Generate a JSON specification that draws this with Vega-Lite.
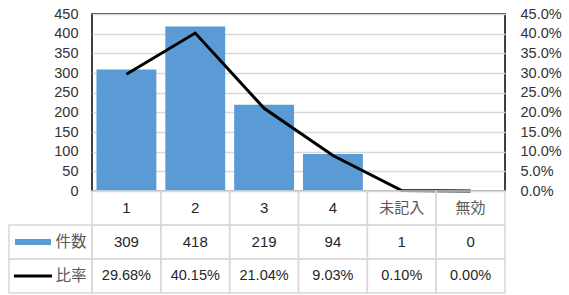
{
  "$schema": "https://vega.github.io/schema/vega-lite/v6.json",
  "padding": {"left": 8, "top": 5, "right": 5, "bottom": 0},
  "background": "white",
  "datasets": {
    "main": [
      {"cat": "1", "count": 309, "ratio": 0.2968},
      {"cat": "2", "count": 418, "ratio": 0.4015},
      {"cat": "3", "count": 219, "ratio": 0.2104},
      {"cat": "4", "count": 94, "ratio": 0.0903},
      {"cat": "未記入", "count": 1, "ratio": 0.0010},
      {"cat": "無効", "count": 0, "ratio": 0.0}
    ],
    "legend": [
      {"row": "count", "label": "件数"},
      {"row": "ratio", "label": "比率"}
    ]
  },
  "columns": 2,
  "spacing": 0,
  "bounds": "flush",
  "align": "each",
  "config": {
    "axis": {"labelFont": "Liberation Sans", "labelFontSize": 14.5, "labelColor": "#333333"}
  },
  "concat": [
    {
      "width": 83,
      "height": 177,
      "data": {"values": [{}]},
      "view": {"stroke": null},
      "mark": {"type": "text", "text": ""},
      "encoding": {}
    },
    {
      "width": 413,
      "height": 177,
      "data": {"name": "main"},
      "view": {"stroke": "black", "strokeWidth": 1.5},
      "encoding": {
        "x": {"field": "cat", "type": "nominal", "sort": null, "scale": {"paddingInner": 0.13, "paddingOuter": 0.065}, "axis": null}
      },
      "layer": [
        {
          "mark": {"type": "bar", "color": "#5b9bd5"},
          "encoding": {
            "y": {
              "field": "count", "type": "quantitative",
              "scale": {"domain": [0, 450]},
              "axis": {"values": [0, 50, 100, 150, 200, 250, 300, 350, 400, 450], "grid": true, "gridColor": "#d9d9d9", "gridWidth": 1.5, "ticks": false, "domain": false, "labelPadding": 14, "title": null}
            }
          }
        },
        {
          "mark": {"type": "line", "color": "black", "strokeWidth": 3},
          "encoding": {
            "y": {
              "field": "ratio", "type": "quantitative",
              "scale": {"domain": [0, 0.45]},
              "axis": {"orient": "right", "values": [0, 0.05, 0.1, 0.15, 0.2, 0.25, 0.3, 0.35, 0.4, 0.45], "format": ".1%", "grid": false, "ticks": false, "domain": false, "labelPadding": 15, "title": null}
            }
          }
        }
      ],
      "resolve": {"scale": {"y": "independent"}}
    },
    {
      "width": 83,
      "height": 102,
      "data": {"name": "legend"},
      "view": {"stroke": null},
      "layer": [
        {
          "mark": {"type": "rect", "fill": "transparent", "stroke": "#d9d9d9", "strokeWidth": 1.5},
          "encoding": {
            "y": {"field": "row", "type": "nominal", "scale": {"domain": ["cat", "count", "ratio"], "paddingInner": 0, "paddingOuter": 0}, "axis": null}
          }
        },
        {
          "transform": [{"filter": "datum.row === 'count'"}],
          "mark": {"type": "rect", "color": "#5b9bd5", "width": 36, "height": 6},
          "encoding": {
            "x": {"datum": "sw", "type": "nominal", "scale": {"domain": ["sw", "lb"], "paddingInner": 0, "paddingOuter": 0.092, "align": 0.71}, "axis": null},
            "y": {"field": "row", "type": "nominal"}
          }
        },
        {
          "transform": [{"filter": "datum.row === 'ratio'"}],
          "mark": {"type": "rect", "color": "black", "width": 38, "height": 3},
          "encoding": {
            "x": {"datum": "sw", "type": "nominal"},
            "y": {"field": "row", "type": "nominal"}
          }
        },
        {
          "mark": {"type": "text", "font": "Noto Sans CJK JP", "fontSize": 15.5, "color": "#595959"},
          "encoding": {
            "x": {"datum": "lb", "type": "nominal"},
            "y": {"field": "row", "type": "nominal"},
            "text": {"field": "label"}
          }
        }
      ]
    },
    {
      "width": 413,
      "height": 102,
      "data": {"name": "main"},
      "view": {"stroke": null},
      "encoding": {
        "x": {"field": "cat", "type": "nominal", "sort": null, "scale": {"paddingInner": 0, "paddingOuter": 0}, "axis": null}
      },
      "layer": [
        {
          "mark": {"type": "rect", "fill": "transparent", "stroke": "#d9d9d9", "strokeWidth": 1.5},
          "encoding": {"y": {"datum": "cat", "type": "nominal", "scale": {"domain": ["cat", "count", "ratio"], "paddingInner": 0, "paddingOuter": 0}, "axis": null}}
        },
        {
          "mark": {"type": "rect", "fill": "transparent", "stroke": "#d9d9d9", "strokeWidth": 1.5},
          "encoding": {"y": {"datum": "count", "type": "nominal"}}
        },
        {
          "mark": {"type": "rect", "fill": "transparent", "stroke": "#d9d9d9", "strokeWidth": 1.5},
          "encoding": {"y": {"datum": "ratio", "type": "nominal"}}
        },
        {
          "mark": {"type": "text", "font": "Liberation Sans, Noto Sans CJK JP", "color": "#262626", "fontSize": 15},
          "encoding": {
            "y": {"datum": "cat", "type": "nominal"},
            "text": {"field": "cat"},
            "color": {"condition": {"test": "length(datum.cat) > 1", "value": "#595959"}, "value": "#262626"}
          }
        },
        {
          "mark": {"type": "text", "font": "Liberation Sans", "fontSize": 15, "color": "#262626"},
          "encoding": {
            "y": {"datum": "count", "type": "nominal"},
            "text": {"field": "count", "type": "quantitative", "format": "d"}
          }
        },
        {
          "mark": {"type": "text", "font": "Liberation Sans", "fontSize": 14.5, "color": "#262626"},
          "encoding": {
            "y": {"datum": "ratio", "type": "nominal"},
            "text": {"field": "ratio", "type": "quantitative", "format": ".2%"}
          }
        }
      ]
    }
  ]
}
